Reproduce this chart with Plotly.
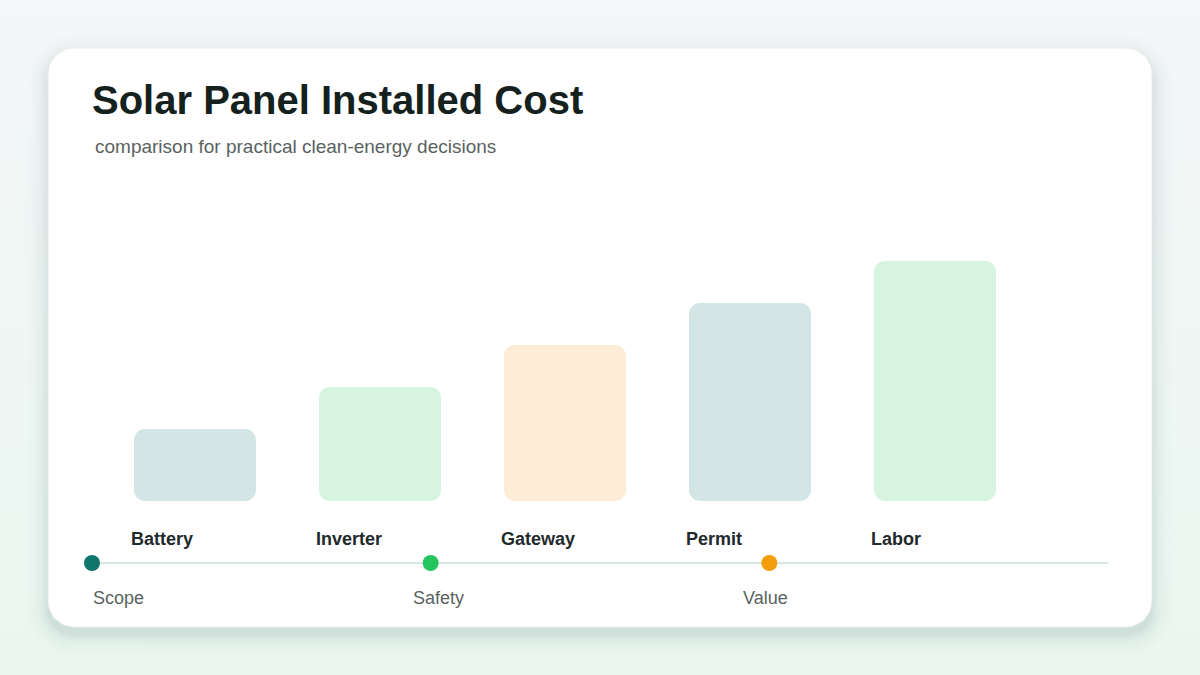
import plotly.graph_objects as go
import math

# ---- data ----
categories = ["Battery", "Inverter", "Gateway", "Permit", "Labor"]
costs = [12, 19, 26, 33, 40]
bar_colors = ["#d3e5e4", "#d7f4e1", "#feedd6", "#d3e5e4", "#d7f4e1"]
milestones = ["Scope", "Safety", "Value"]
milestone_colors = ["#0f766e", "#22c55e", "#f59e0b"]

W, H = 1200, 675


def rrect(x0, y0, x1, y1, r, n=10):
    xs, ys = [], []
    corners = [(x1 - r, y0 + r, -90, 0), (x1 - r, y1 - r, 0, 90),
               (x0 + r, y1 - r, 90, 180), (x0 + r, y0 + r, 180, 270)]
    for cx, cy, a0, a1 in corners:
        for k in range(n + 1):
            a = math.radians(a0 + (a1 - a0) * k / n)
            xs.append(cx + r * math.cos(a))
            ys.append(cy + r * math.sin(a))
    xs.append(xs[0]); ys.append(ys[0])
    return xs, ys


fig = go.Figure()

# background gradient
fig.add_trace(go.Scatter(x=[0, W, W, 0, 0], y=[0, 0, H, H, 0], fill="toself", mode="lines",
                         line=dict(width=0), hoverinfo="skip", showlegend=False,
                         fillgradient=dict(type="vertical",
                                           colorscale=[[0, "#eaf7f0"], [1, "#f4f6f8"]])))
# shadow
for grow, alpha in [(22, 0.008), (17, 0.011), (13, 0.014), (9, 0.018), (6, 0.022), (3, 0.028), (1, 0.035)]:
    xs, ys = rrect(48 - grow, 48 - grow + 8, 1152 + grow, 627 + grow + 8, 26 + grow)
    fig.add_trace(go.Scatter(x=xs, y=ys, fill="toself", mode="lines", line=dict(width=0),
                             fillcolor=f"rgba(45,95,80,{alpha})", hoverinfo="skip", showlegend=False))
# card
xs, ys = rrect(48, 48, 1152, 627, 26)
fig.add_trace(go.Scatter(x=xs, y=ys, fill="toself", mode="lines",
                         line=dict(width=1, color="#e8eeec"), fillcolor="#ffffff",
                         hoverinfo="skip", showlegend=False))

# timeline
line_x0, line_x1, line_y = 92, 1108, 563
fig.add_trace(go.Scatter(x=[line_x0, line_x1], y=[line_y, line_y], mode="lines",
                         line=dict(color="#d6e6e3", width=2), hoverinfo="skip", showlegend=False))
step = (line_x1 - line_x0) / 3
fig.add_trace(go.Scatter(x=[line_x0 + step * i for i in range(len(milestones))],
                         y=[line_y] * len(milestones), mode="markers",
                         marker=dict(size=16, color=milestone_colors, line=dict(width=0)),
                         hoverinfo="skip", showlegend=False))

# bars (two halves so that both ends get rounded corners)
idx = list(range(len(categories)))
bar_w = 122 / 185
fig.add_trace(go.Bar(x=idx, y=[v * 0.65 for v in costs], base=[v * 0.35 for v in costs],
                     width=bar_w, marker=dict(color=bar_colors, line=dict(width=0), cornerradius=11),
                     xaxis="x2", yaxis="y2", hoverinfo="skip", showlegend=False))
fig.add_trace(go.Bar(x=idx, y=[-v * 0.65 for v in costs], base=[v * 0.65 for v in costs],
                     width=bar_w, marker=dict(color=bar_colors, line=dict(width=0), cornerradius=11),
                     xaxis="x2", yaxis="y2", hoverinfo="skip", showlegend=False))

annotations = [
    dict(text="<b>Solar Panel Installed Cost</b>", x=90, y=100, xref="x", yref="y",
         xanchor="left", yanchor="middle", showarrow=False,
         font=dict(family="Liberation Sans, Arial, sans-serif", size=40, color="#14211d")),
    dict(text="comparison for practical clean-energy decisions", x=93, y=146, xref="x", yref="y",
         xanchor="left", yanchor="middle", showarrow=False,
         font=dict(family="Liberation Sans, Arial, sans-serif", size=19, color="#59625f")),
]
for i, c in enumerate(categories):
    annotations.append(dict(text=f"<b>{c}</b>", x=i, y=0, xref="x2", yref="y2",
                            xanchor="left", yanchor="middle", xshift=-66, yshift=-38,
                            showarrow=False,
                            font=dict(family="Liberation Sans, Arial, sans-serif", size=18,
                                      color="#1f2a2c")))
milestone_label_x = [91, 411, 741]
for m, lx in zip(milestones, milestone_label_x):
    annotations.append(dict(text=m, x=lx, y=598, xref="x", yref="y", xanchor="left",
                            yanchor="middle", showarrow=False,
                            font=dict(family="Liberation Sans, Arial, sans-serif", size=18,
                                      color="#5a6361")))

px_per_unit = 6
baseline = 501
fig.update_layout(
    width=W, height=H, margin=dict(l=0, r=0, t=0, b=0),
    paper_bgcolor="#f1f6f4", plot_bgcolor="rgba(0,0,0,0)",
    barmode="overlay",
    xaxis=dict(range=[0, W], visible=False, fixedrange=True, domain=[0, 1]),
    yaxis=dict(range=[H, 0], visible=False, fixedrange=True, domain=[0, 1]),
    xaxis2=dict(overlaying="x", range=[-195 / 185, (W - 195) / 185], visible=False, fixedrange=True),
    yaxis2=dict(overlaying="y", range=[-(H - baseline) / px_per_unit, baseline / px_per_unit],
                visible=False, fixedrange=True),
    annotations=annotations,
    showlegend=False,
)

fig.write_html("out.html", config={"displayModeBar": False, "staticPlot": True},
               post_script="document.body.style.margin='0';document.body.style.overflow='hidden';")
